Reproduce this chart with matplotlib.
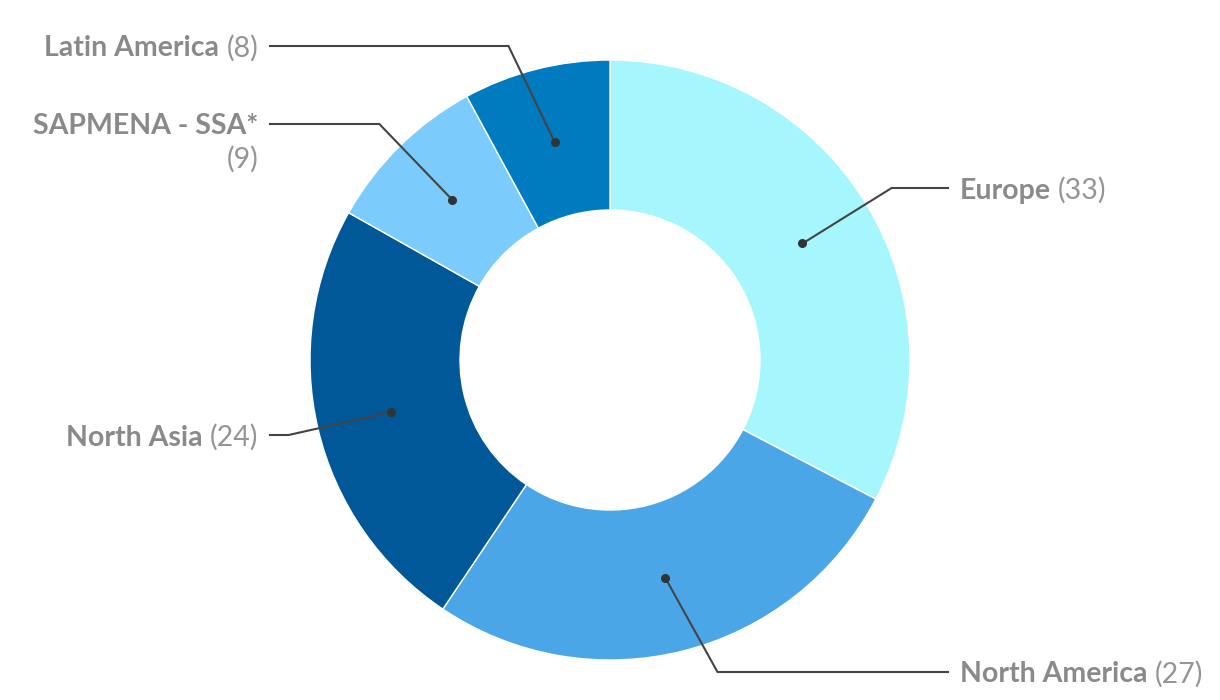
import numpy as np
import matplotlib
matplotlib.use("Agg")
import matplotlib.pyplot as plt

# ---- data ----
regions = ["Europe", "North America", "North Asia", "SAPMENA - SSA*", "Latin America"]
counts = [33, 27, 24, 9, 8]
colors = ["#a6f6fd", "#4ba6e8", "#015898", "#7ccbfd", "#007bbf"]

# label layout (pixel rows from top, side)
label_rows = [188, 672, 435, 124, 46]
label_side = ["right", "right", "left", "left", "left"]

W, H = 1220, 700
cx, cy = 610, H - 360
R = 300

fig = plt.figure(figsize=(W / 100, H / 100), dpi=100)
ax = fig.add_axes([0, 0, 1, 1])

wedges, _ = ax.pie(
    counts, colors=colors, startangle=90, counterclock=False,
    center=(cx, cy), radius=R,
    wedgeprops=dict(width=R * 0.5, edgecolor="white", linewidth=1),
)
ax.set_xlim(0, W)
ax.set_ylim(0, H)
ax.set_aspect("equal")
ax.axis("off")

renderer = fig.canvas.get_renderer()
name_kw = dict(fontsize=20.5, fontweight="bold", color="#8a8a8a", family="Lato",
               va="center_baseline")
val_kw = dict(fontsize=20.5, fontweight="normal", color="#959595", family="Lato",
              va="center_baseline")


def text_width(t):
    bb = t.get_window_extent(renderer=renderer)
    return bb.width


for w, name, n, row, side in zip(wedges, regions, counts, label_rows, label_side):
    mid = np.deg2rad((w.theta1 + w.theta2) / 2)
    dot = (cx + 0.75 * R * np.cos(mid), cy + 0.75 * R * np.sin(mid))
    ly = H - row
    dy = ly - cy
    dx = np.sqrt(max((1.1 * R) ** 2 - dy ** 2, 0))
    if side == "right":
        ex = cx + dx
        lx_end, tx = 948, 960
    else:
        ex = cx - dx
        lx_end, tx = 270, 258
    ax.plot([dot[0], ex, lx_end], [dot[1], ly, ly], color="#444444", lw=1.5,
            solid_joinstyle="miter", zorder=5)
    ax.plot(*dot, "o", color="#333333", markersize=5.5, zorder=6)

    if side == "right":
        t = ax.text(tx, ly, name, ha="left", **name_kw)
        ax.text(tx + text_width(t) + 7, ly, f"({n})", ha="left", **val_kw)
    elif name.startswith("SAPMENA"):
        ax.text(tx, ly, name, ha="right", **name_kw)
        ax.text(tx, ly - 33, f"({n})", ha="right", **val_kw)
    else:
        v = ax.text(tx, ly, f"({n})", ha="right", **val_kw)
        ax.text(tx - text_width(v) - 7, ly, name, ha="right", **name_kw)

fig.savefig("out.png", dpi=100)
